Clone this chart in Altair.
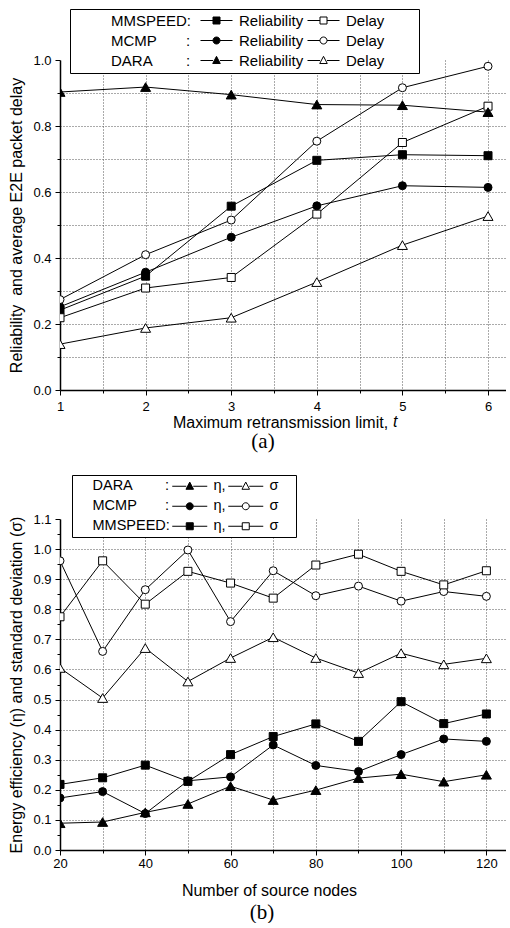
import altair as alt
import pandas as pd

# ---------------- Panel (a): reliability and delay vs. maximum retransmission limit
t_limit = [1, 2, 3, 4, 5, 6]
mmspeed_reliability = [0.242, 0.345, 0.557, 0.696, 0.713, 0.710]
mmspeed_delay = [0.219, 0.309, 0.341, 0.533, 0.750, 0.860]
mcmp_reliability = [0.252, 0.357, 0.463, 0.558, 0.619, 0.614]
mcmp_delay = [0.274, 0.410, 0.515, 0.754, 0.916, 0.981]
dara_reliability = [0.903, 0.918, 0.895, 0.865, 0.863, 0.842]
dara_delay = [0.139, 0.188, 0.219, 0.327, 0.439, 0.527]

# ---------------- Panel (b): energy efficiency and std. deviation vs. source nodes
source_nodes = [20, 30, 40, 50, 60, 70, 80, 90, 100, 110, 120]
dara_eta = [0.089, 0.093, 0.125, 0.153, 0.212, 0.166, 0.199, 0.239, 0.252, 0.227, 0.250]
dara_sigma = [0.605, 0.505, 0.671, 0.560, 0.638, 0.707, 0.638, 0.588, 0.654, 0.617, 0.637]
mcmp_eta = [0.173, 0.194, 0.121, 0.230, 0.243, 0.349, 0.281, 0.261, 0.317, 0.369, 0.361]
mcmp_sigma = [0.961, 0.660, 0.865, 0.997, 0.759, 0.928, 0.845, 0.877, 0.827, 0.859, 0.843]
mmspeed_eta = [0.218, 0.240, 0.282, 0.228, 0.317, 0.377, 0.419, 0.361, 0.493, 0.420, 0.452]
mmspeed_sigma = [0.775, 0.961, 0.817, 0.926, 0.887, 0.837, 0.947, 0.983, 0.926, 0.881, 0.928]

FONT = "Liberation Sans"
NB = "\u00a0"
MARK_SIZE = {"square": 64, "circle": 64, "triangle-up": 100}


def marker_path(kind, c, h):
    if kind == "square":
        return f"M{c-h},{-h}H{c+h}V{h}H{c-h}Z"
    if kind == "circle":
        return f"M{c+h},0A{h},{h} 0 1,1 {c-h},0A{h},{h} 0 1,1 {c+h},0Z"
    h = h * 1.08
    return f"M{c},{-1.1*h}L{c+h},{0.8*h}L{c-h},{0.8*h}Z"


def legend_symbol(kind, x0, x1, h=0.7):
    c = (x0 + x1) / 2
    return f"M{x0},0H{c-h}M{c+h},0H{x1}" + marker_path(kind, c, h)


def build_panel(x_vals, groups, measures, X, Y, legend_cfg, width, height, title):
    """groups: [(group, head_label, kind)], measures: [(measure, label, filled, values_by_group)]"""
    rows = []
    for gname, head, kind in groups:
        for mname, mlabel, filled, vals in measures:
            for xv, yv in zip(x_vals, vals[gname]):
                rows.append({"x": xv, "y": yv, "group": gname, "measure": mname,
                             "head": head, "key": gname + "|" + mname})
    df = pd.DataFrame(rows)
    base = alt.Chart(df)
    lines = base.mark_line(color="black", strokeWidth=1, clip=True).encode(
        x=X, y=Y, detail="key:N"
    )
    pts = []
    for gname, head, kind in groups:
        for mname, mlabel, filled, vals in measures:
            pts.append(
                base.transform_filter(alt.datum.key == gname + "|" + mname)
                .mark_point(
                    shape=kind, filled=True, fill="black" if filled else "white",
                    stroke="black", strokeWidth=1, size=MARK_SIZE[kind], opacity=1, clip=True,
                )
                .encode(x=X, y=Y)
            )
    common = dict(title=None, orient="none", symbolSize=100, symbolStrokeWidth=1,
                  symbolOpacity=1, labelFont=FONT, labelColor="black", labelLimit=0,
                  labelFontSize=legend_cfg["font"], rowPadding=legend_cfg["row"])
    gnames = [g[0] for g in groups]
    heads = [g[1] for g in groups]
    # legend 1: group names inside the framed box (the invisible path end sets the box width)
    leg1 = alt.Legend(legendX=legend_cfg["x"], legendY=legend_cfg["y"], padding=4,
                      strokeColor="black", fillColor="white",
                      labelOffset=legend_cfg["head_offset"], **common)
    box_path = f"M0,0M{legend_cfg['box_end']},0"
    l1 = base.mark_point(opacity=0, stroke="transparent", clip=True).encode(
        x=X, y=Y,
        shape=alt.Shape("head:N", scale=alt.Scale(domain=heads, range=[box_path] * len(heads)),
                        legend=leg1),
    )
    legend_layers = [l1]
    x0, x1 = legend_cfg["sym"]
    for (mname, mlabel, filled, vals), lx in zip(measures, legend_cfg["cols"]):
        leg = alt.Legend(legendX=lx, legendY=legend_cfg["y"] + 4, padding=0,
                         labelOffset=legend_cfg["label_offset"],
                         labelExpr=f"'{mlabel}'", **common)
        sc = dict(domain=gnames)
        legend_layers.append(
            base.transform_filter(alt.datum.measure == mname)
            .mark_point(opacity=0, clip=True)
            .encode(
                x=X, y=Y,
                shape=alt.Shape("group:N", legend=leg, scale=alt.Scale(
                    range=[legend_symbol(g[2], x0, x1) for g in groups], **sc)),
                fill=alt.Fill("group:N", legend=leg, scale=alt.Scale(
                    range=["black" if filled else "white"] * len(groups), **sc)),
                stroke=alt.Stroke("group:N", legend=leg, scale=alt.Scale(
                    range=["black"] * len(groups), **sc)),
            )
        )
    return (
        alt.layer(lines, *pts, *legend_layers)
        .resolve_scale(shape="independent", fill="independent", stroke="independent")
        .resolve_legend(shape="independent", fill="independent", stroke="independent")
        .properties(width=width, height=height, title=title)
    )


def axis(values, title, label_test, fmt, grid_hidden, **kw):
    return alt.Axis(
        values=values, title=title,
        labelExpr=f"({label_test}) ? format(datum.value, '{fmt}') : ''",
        labelFlush=False, labelOverlap=False,
        labelFont=FONT, labelFontSize=13, labelColor="black",
        titleFont=FONT, titleFontSize=16, titleFontWeight="normal", titleColor="black",
        tickColor="black", tickWidth=1,
        tickSize={"condition": {"test": label_test, "value": 5}, "value": 3},
        domainColor="black", domainWidth=1.5,
        grid=True, gridColor="#555555", gridDash=[1, 2], gridWidth=1,
        gridOpacity={"condition": {"test": grid_hidden, "value": 0}, "value": 1},
        **kw,
    )


# ---------------- panel (a)
xa = alt.X("x:Q", scale=alt.Scale(domain=[1, 6.21], nice=False, zero=False),
           axis=axis([1 + 0.5 * i for i in range(11)], "Maximum retransmission limit,",
                     "datum.value % 1 == 0", "d", "datum.value < 1.1",
                     labelPadding=5, titleX=220, titleY=37, titleBaseline="alphabetic",
                     titleAlign="center"))
ya = alt.Y("y:Q", scale=alt.Scale(domain=[0, 1.0], nice=False),
           axis=axis([round(0.1 * i, 2) for i in range(11)],
                     "Reliability" + NB + " and average E2E packet delay",
                     "round(datum.value * 10) % 2 == 0", ".1f",
                     "datum.value < 0.05 || datum.value > 0.95",
                     labelPadding=4, titlePadding=8))

groups_a = [
    ("MMSPEED", "MMSPEED:", "square"),
    ("MCMP", "MCMP" + NB * 7 + ":", "circle"),
    ("DARA", "DARA" + NB * 8 + ":", "triangle-up"),
]
measures_a = [
    ("rel", "Reliability", True,
     {"MMSPEED": mmspeed_reliability, "MCMP": mcmp_reliability, "DARA": dara_reliability}),
    ("delay", "Delay", False,
     {"MMSPEED": mmspeed_delay, "MCMP": mcmp_delay, "DARA": dara_delay}),
]
title_a = alt.TitleParams("(a)", orient="bottom", font="Liberation Serif", fontSize=21,
                          fontWeight="normal", color="black", offset=1, dx=-20)
panel_a = build_panel(
    t_limit, groups_a, measures_a, xa, ya,
    dict(x=10, y=-51, font=15, row=4, head_offset=22, label_offset=26,
         sym=(-1, 5.4), cols=[138, 245], box_end=66.2),
    446, 330, title_a,
)
t_text = alt.Chart(pd.DataFrame({"s": ["t"]})).mark_text(
    font=FONT, fontSize=16, fontStyle="italic", align="left", baseline="alphabetic", color="black"
).encode(text="s:N", x=alt.value(333), y=alt.value(367))
panel_a = alt.layer(panel_a, t_text)

# ---------------- panel (b)
xb = alt.X("x:Q", scale=alt.Scale(domain=[20, 124.6], nice=False, zero=False),
           axis=axis(list(range(20, 121, 10)), "Number of source nodes",
                     "datum.value % 20 == 0", "d", "datum.value < 21",
                     labelPadding=2, titleX=209, titleY=45, titleBaseline="alphabetic",
                     titleAlign="center"))
yb = alt.Y("y:Q", scale=alt.Scale(domain=[0, 1.1], nice=False),
           axis=axis([round(0.05 * i, 2) for i in range(23)],
                     "Energy efficiency (η) and standard deviation (σ)",
                     "round(datum.value * 20) % 2 == 0", ".1f",
                     "round(datum.value * 20) % 2 == 1 || datum.value < 0.01 || datum.value > 1.05",
                     labelPadding=4, titlePadding=8))

groups_b = [
    ("DARA", "DARA" + NB * 8 + ":", "triangle-up"),
    ("MCMP", "MCMP" + NB * 7 + ":", "circle"),
    ("MMSPEED", "MMSPEED:", "square"),
]
measures_b = [
    ("eta", "η,", True, {"DARA": dara_eta, "MCMP": mcmp_eta, "MMSPEED": mmspeed_eta}),
    ("sigma", "σ", False, {"DARA": dara_sigma, "MCMP": mcmp_sigma, "MMSPEED": mmspeed_sigma}),
]
title_b = alt.TitleParams("(b)", orient="bottom", font="Liberation Serif", fontSize=21,
                          fontWeight="normal", color="black", offset=4, dx=-21)
panel_b = build_panel(
    source_nodes, groups_b, measures_b, xb, yb,
    dict(x=12, y=-44, font=14.5, row=5, head_offset=2, label_offset=29,
         sym=(-1, 6.0), cols=[110, 166], box_end=41.2),
    446, 331, title_b,
)

chart = (
    alt.vconcat(panel_a, panel_b, spacing=22)
    .resolve_scale(shape="independent", fill="independent", stroke="independent",
                   x="independent", y="independent")
    .resolve_legend(shape="independent", fill="independent", stroke="independent")
    .properties(padding={"left": 8, "top": 8, "right": 0, "bottom": 0}, background="white")
    .configure_view(stroke=None)
)

chart.save("out.html", embed_options={"renderer": "svg", "actions": False})
